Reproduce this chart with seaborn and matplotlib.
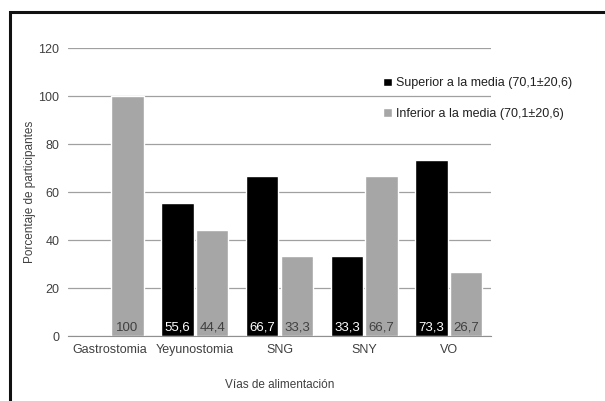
import matplotlib
matplotlib.use("Agg")
import matplotlib.pyplot as plt
import seaborn as sns
import pandas as pd
from matplotlib.patches import Rectangle

categorias = ["Gastrostomia", "Yeyunostomia", "SNG", "SNY", "VO"]
superior = [0, 55.6, 66.7, 33.3, 73.3]
inferior = [100, 44.4, 33.3, 66.7, 26.7]
series = ["Superior a la media (70,1±20,6)", "Inferior a la media (70,1±20,6)"]

df = pd.DataFrame({
    "via": categorias * 2,
    "valor": superior + inferior,
    "grupo": [series[0]] * 5 + [series[1]] * 5,
})

sns.set_style("white")
plt.rcParams["font.family"] = ["Liberation Sans", "DejaVu Sans"]
texto = "#404040"

fig = plt.figure(figsize=(6.05, 4.01), dpi=100)
ax = fig.add_axes([0.112, 0.162, 0.700, 0.718])

sns.barplot(data=df, x="via", y="valor", hue="grupo", palette=["#000000", "#a6a6a6"],
            width=0.82, gap=0.07, saturation=1, ax=ax, legend=True)

ax.set_ylim(0, 120)
ax.set_yticks(range(0, 121, 20))
ax.set_xlim(-0.5, 4.5)
ax.yaxis.grid(True, color="#a0a0a0", linewidth=0.9)
ax.set_axisbelow(True)
for s in ["top", "right", "left"]:
    ax.spines[s].set_visible(False)
ax.spines["bottom"].set_color("#909090")
ax.tick_params(axis="y", length=0, labelsize=9, labelcolor=texto, pad=6)
ax.tick_params(axis="x", which="major", length=0, labelsize=9, labelcolor=texto, pad=6)
ax.set_xticks([i - 0.5 for i in range(6)], minor=True)
ax.tick_params(axis="x", which="minor", length=4, color="#909090")
ax.set_ylabel("Porcentaje de participantes", fontsize=8.5, color=texto, labelpad=2)
ax.set_xlabel("Vías de alimentación", fontsize=8.5, color=texto, labelpad=16)

# etiquetas de valor al pie de cada barra
for cont, vals, col in zip(ax.containers, [superior, inferior], ["white", "#404040"]):
    for p, v in zip(cont.patches, vals):
        if v == 0:
            continue
        ax.annotate(f"{v:g}".replace(".", ","), xy=(p.get_x() + p.get_width() / 2, 0),
                    xytext=(0, 1.5), textcoords="offset points", ha="center", va="bottom",
                    fontsize=9.5, color=col)

h, l = ax.get_legend_handles_labels()
ax.get_legend().remove()
fig.legend(h, l, loc="upper left", bbox_to_anchor=(0.615, 0.835), frameon=False,
           handlelength=0.7, handleheight=0.7, handletextpad=0.3, labelspacing=1.5,
           fontsize=9, labelcolor="#202020")

# marco exterior
fig.patches.append(Rectangle((0.017, -0.1), 1.2, 1.07, transform=fig.transFigure,
                             fill=False, edgecolor="#111111", linewidth=2.2))

fig.savefig("out.png", dpi=100)
